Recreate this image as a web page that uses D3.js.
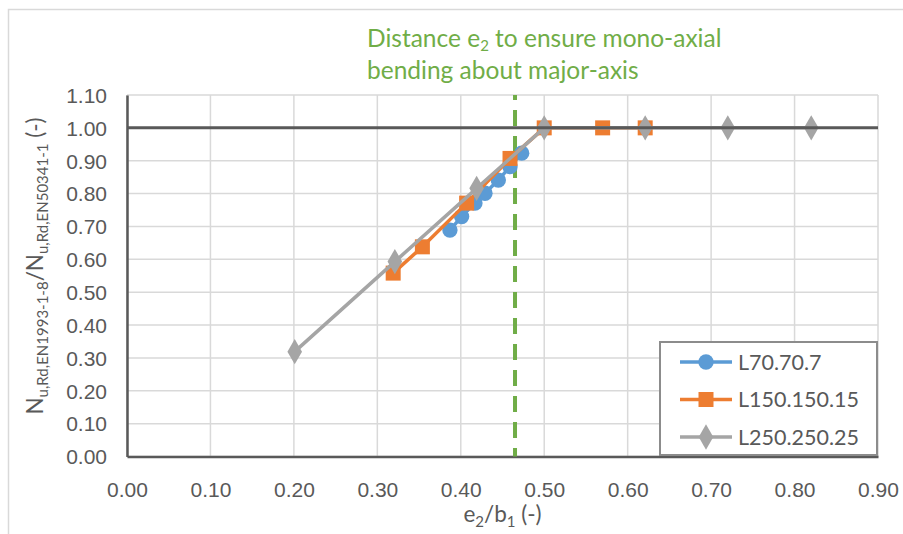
<!DOCTYPE html>
<html lang="en">
<head>
<meta charset="UTF-8">
<title>Nu,Rd ratio vs e2/b1</title>
<script src="https://cdn.jsdelivr.net/npm/d3@7"></script>
<style>
  body { margin: 0; background: #fff; }
  svg { display: block; font-family: Lato, "Open Sans", sans-serif; }
  .tick text { fill: #595959; font-size: 21px; }
</style>
</head>
<body>
<svg id="chart" width="903" height="534"></svg>
<script>
// series
var seriesNames = ["L70.70.7", "L150.150.15", "L250.250.25"];
var seriesColors = ["#5B9BD5", "#ED7D31", "#A5A5A5"];
var l70x = [0.387, 0.401, 0.417, 0.429, 0.445, 0.459, 0.473];
var l70y = [0.689, 0.730, 0.771, 0.801, 0.841, 0.882, 0.923];
var l150x = [0.319, 0.354, 0.407, 0.459, 0.500, 0.570, 0.621];
var l150y = [0.558, 0.638, 0.771, 0.907, 1.000, 1.000, 1.000];
var l250x = [0.201, 0.321, 0.419, 0.500, 0.621, 0.720, 0.820];
var l250y = [0.319, 0.593, 0.816, 1.000, 1.000, 1.000, 1.000];
var xTicks = [0, 0.1, 0.2, 0.3, 0.4, 0.5, 0.6, 0.7, 0.8, 0.9];
var yTicks = [0, 0.1, 0.2, 0.3, 0.4, 0.5, 0.6, 0.7, 0.8, 0.9, 1.0, 1.1];
var refLevel = 1.0;     // dark line at ratio 1
var e2Limit = 0.465;    // green dashed line

var svg = d3.select("#chart");
var plot = { left: 127, right: 878, top: 95, bottom: 456.5 };

var x = d3.scaleLinear().domain([0, 0.9]).range([plot.left, plot.right]);
var y = d3.scaleLinear().domain([0, 1.1]).range([plot.bottom, plot.top]);

// outer chart border
svg.append("rect")
    .attr("x", 8.5).attr("y", 9.5)
    .attr("width", 920).attr("height", 560)
    .attr("fill", "none").attr("stroke", "#d9d9d9").attr("stroke-width", 1.5);

// gridlines
svg.append("g").selectAll("line").data(yTicks).enter().append("line")
    .attr("x1", plot.left).attr("x2", plot.right)
    .attr("y1", function(d) { return y(d); }).attr("y2", function(d) { return y(d); })
    .attr("stroke", "#d9d9d9").attr("stroke-width", 1.5);
svg.append("g").selectAll("line").data(xTicks).enter().append("line")
    .attr("y1", plot.top).attr("y2", plot.bottom)
    .attr("x1", function(d) { return x(d); }).attr("x2", function(d) { return x(d); })
    .attr("stroke", "#d9d9d9").attr("stroke-width", 1.5);

// axes
var xAxis = svg.append("g")
    .attr("transform", "translate(0," + plot.bottom + ")")
    .call(d3.axisBottom(x).tickValues(xTicks).tickFormat(d3.format(".2f")).tickSize(0).tickPadding(26));
var yAxis = svg.append("g")
    .attr("transform", "translate(" + plot.left + ",0)")
    .call(d3.axisLeft(y).tickValues(yTicks).tickFormat(d3.format(".2f")).tickSize(0).tickPadding(20));
xAxis.select(".domain").attr("stroke", "#595959").attr("stroke-width", 2.5);
yAxis.select(".domain").attr("stroke", "#595959").attr("stroke-width", 2.5);
yAxis.selectAll(".tick text").attr("dy", "0.35em");

// green dashed line
svg.append("line")
    .attr("x1", x(e2Limit)).attr("x2", x(e2Limit))
    .attr("y1", y(1.1)).attr("y2", plot.bottom)
    .attr("stroke", "#70AD47").attr("stroke-width", 4)
    .attr("stroke-dasharray", "16,10").attr("stroke-dashoffset", 11);

// series
var series = [
  { xs: l70x, ys: l70y, sym: d3.symbolCircle, size: 185 },
  { xs: l150x, ys: l150y, sym: d3.symbolSquare, size: 225 },
  { xs: l250x, ys: l250y, sym: d3.symbolDiamond, size: 185 }
];
var line = d3.line().x(function(d) { return x(d[0]); }).y(function(d) { return y(d[1]); });

series.forEach(function(s, i) {
  var pts = s.xs.map(function(v, j) { return [v, s.ys[j]]; });
  svg.append("path")
      .attr("d", line(pts))
      .attr("fill", "none")
      .attr("stroke", seriesColors[i]).attr("stroke-width", 3.5)
      .attr("stroke-linejoin", "round");
  svg.append("g").selectAll("path").data(pts).enter().append("path")
      .attr("transform", function(d) { return "translate(" + x(d[0]) + "," + y(d[1]) + ")"; })
      .attr("d", d3.symbol().type(s.sym).size(s.size))
      .attr("fill", seriesColors[i]);
});

// ratio = 1 line
svg.append("line")
    .attr("x1", plot.left).attr("x2", plot.right)
    .attr("y1", y(refLevel)).attr("y2", y(refLevel))
    .attr("stroke", "#595959").attr("stroke-width", 3);

// legend
var lg = svg.append("g");
lg.append("rect")
    .attr("x", 660).attr("y", 342).attr("width", 217).attr("height", 113)
    .attr("fill", "#fff").attr("stroke", "#8c8c8c").attr("stroke-width", 2);
seriesNames.forEach(function(name, i) {
  var cy = 362 + i * 37.5;
  lg.append("line")
      .attr("x1", 680).attr("x2", 732).attr("y1", cy).attr("y2", cy)
      .attr("stroke", seriesColors[i]).attr("stroke-width", 3.5);
  lg.append("path")
      .attr("transform", "translate(706," + cy + ")")
      .attr("d", d3.symbol().type(series[i].sym).size(series[i].size))
      .attr("fill", seriesColors[i]);
  lg.append("text")
      .attr("x", 738).attr("y", cy).attr("dy", "0.36em")
      .attr("fill", "#595959").style("font-size", "21.5px")
      .text(name);
});

// title in green
var t = svg.append("text")
    .attr("fill", "#70AD47").style("font-size", "24.5px");
t.append("tspan").attr("x", 367).attr("y", 47).text("Distance e");
t.append("tspan").attr("dy", 4).style("font-size", "15px").text("2");
t.append("tspan").attr("dy", -4).text(" to ensure mono-axial");
var t2 = svg.append("text")
    .attr("x", 367).attr("y", 79)
    .attr("fill", "#70AD47").style("font-size", "24.5px")
    .text("bending about major-axis");

// x axis title
var xt = svg.append("text")
    .attr("x", x(0.45)).attr("y", 522)
    .attr("text-anchor", "middle")
    .attr("fill", "#595959").style("font-size", "22.5px");
xt.append("tspan").text("e");
xt.append("tspan").attr("dy", 5).style("font-size", "15px").text("2");
xt.append("tspan").attr("dy", -5).text("/b");
xt.append("tspan").attr("dy", 5).style("font-size", "15px").text("1");
xt.append("tspan").attr("dy", -5).text(" (-)");

// y axis title
var yt = svg.append("text")
    .attr("transform", "translate(43," + 266 + ") rotate(-90)")
    .attr("text-anchor", "middle")
    .attr("fill", "#595959").style("font-size", "22.5px");
yt.append("tspan").text("N");
yt.append("tspan").attr("dy", 5).style("font-size", "15px").text("u,Rd,EN1993-1-8");
yt.append("tspan").attr("dy", -5).text("/N");
yt.append("tspan").attr("dy", 5).style("font-size", "15px").text("u,Rd,EN50341-1");
yt.append("tspan").attr("dy", -5).text(" (-)");
</script>
</body>
</html>
